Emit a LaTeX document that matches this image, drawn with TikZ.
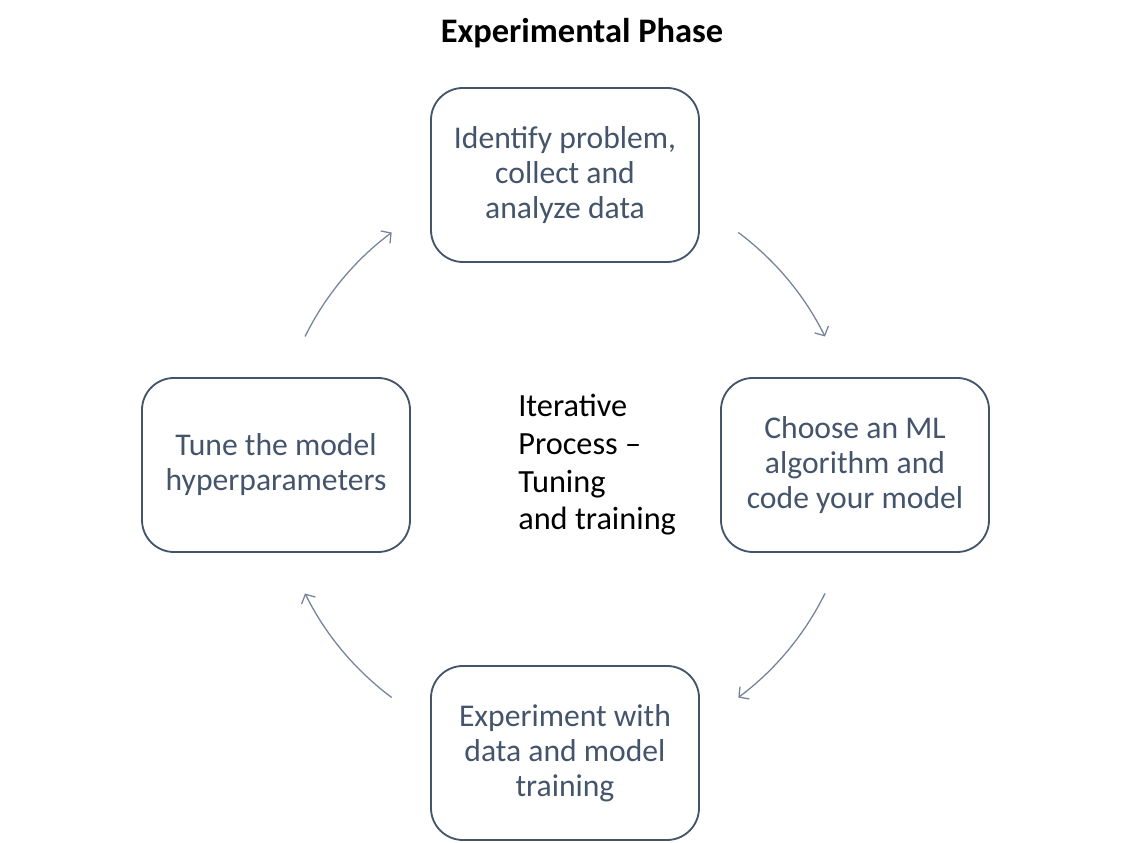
\documentclass[tikz,border=0pt]{standalone}
\usepackage{fontspec}
\setmainfont{Carlito}
\usetikzlibrary{arrows.meta,calc}
\definecolor{boxblue}{HTML}{44546A}
\definecolor{arcgray}{HTML}{76829A}
\begin{document}
\begin{tikzpicture}[
			phase/.style={draw=boxblue, line width=1.3pt, rounded corners=0.8cm,
				minimum width=6.7cm, minimum height=4.35cm, align=center,
				text=boxblue, font=\fontsize{22.5}{25}\selectfont},
			flow/.style={draw=arcgray, line width=0.9pt,
				-{Straight Barb[length=5pt,width=11pt]}},
		]
		\useasboundingbox (0,0) rectangle (28.275,21.075);

		\node[font=\bfseries\fontsize{24.5}{28}\selectfont] (title) at (14.55,20.25) {Experimental Phase};

		\coordinate (hub) at (14.125,9.45);

		\node[phase] (identify) at (14.125,16.7) {Identify problem,\\collect and\\analyze data};
		\node[phase] (choose) at (21.375,9.45) {Choose an ML\\algorithm and\\code your model};
		\node[phase] (experiment) at (14.125,2.25) {Experiment with\\data and model\\training};
		\node[phase] (tune) at (6.9,9.45) {Tune the model\\hyperparameters};

		\node[anchor=west, align=left, inner sep=0pt, font=\fontsize{23}{26.8}\selectfont] (iter) at (12.95,9.45)
			{Iterative\\Process --\\Tuning\\and training};

		% arcs of the cycle
		\coordinate (a1) at ($(hub)+(53.3:7.25)$);
		\coordinate (a2) at ($(hub)+(-26.3:7.25)$);
		\coordinate (a3) at ($(hub)+(-126.7:7.25)$);
		\coordinate (a4) at ($(hub)+(153.7:7.25)$);
		\draw[flow] (a1) arc[start angle=53.3, end angle=26.3, radius=7.25];
		\draw[flow] (a2) arc[start angle=-26.3, end angle=-53.3, radius=7.25];
		\draw[flow] (a3) arc[start angle=-126.7, end angle=-153.7, radius=7.25];
		\draw[flow] (a4) arc[start angle=153.7, end angle=126.7, radius=7.25];
	\end{tikzpicture}
\end{document}
